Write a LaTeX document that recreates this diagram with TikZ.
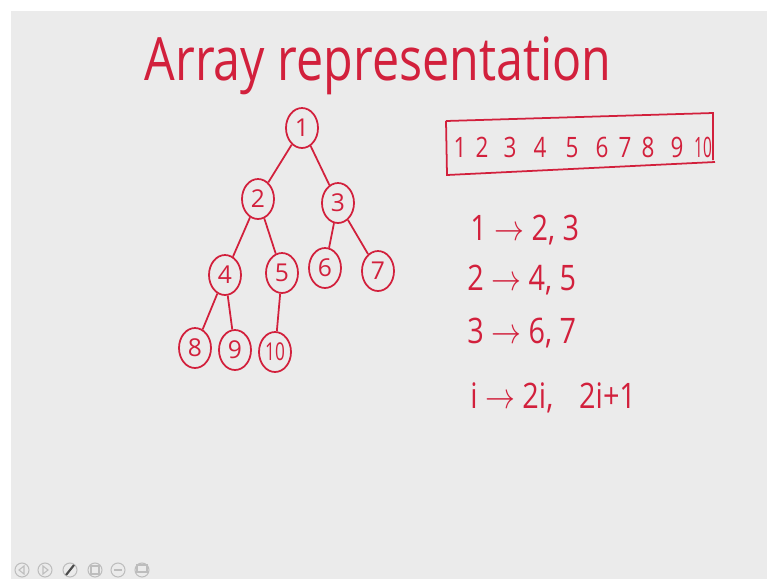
\documentclass[tikz,border=0pt]{standalone}
\usepackage{fontspec}
\setmainfont{Open Sans}
\usetikzlibrary{shapes.geometric}

\definecolor{ink}{HTML}{D2203C}
\definecolor{board}{HTML}{EBEBEB}
\definecolor{tool}{HTML}{BDBDBD}

\begin{document}
\begin{tikzpicture}[
    x=0.02cm, y=-0.02cm,
    key/.style={draw=ink, line width=1pt, ellipse, inner sep=0pt,
        minimum width=0.64cm, minimum height=0.8cm,
        text=ink, font=\fontsize{14}{14}\selectfont},
    edge/.style={draw=ink, line width=1pt},
    cell/.style={text=ink, anchor=base, inner sep=0pt,
        font=\fontsize{16}{16}\selectfont},
    rule/.style={text=ink, anchor=base west, inner sep=0pt,
        font=\fontsize{20}{20}\selectfont},
    btn/.style={draw=tool, line width=0.6pt},
]

% === Page ===
\useasboundingbox (0,0) rectangle (767,579);
\fill[white] (0,0) rectangle (767,579);
\fill[board] (11,11) rectangle (767,579);

% === Title ===
\node[text=ink, anchor=base, inner sep=0pt,
    font=\fontsize{34}{34}\selectfont] (title) at (378,80)
    {\scalebox{0.81}[1]{Array representation}};

% === Tree ===
\node[key] (n1) at (302,128) {1};
\node[key] (n2) at (258,199) {2};
\node[key] (n3) at (338,203) {3};
\node[key] (n4) at (225,275) {4};
\node[key] (n5) at (282,273) {5};
\node[key] (n6) at (325,268) {6};
\node[key] (n7) at (378,271) {7};
\node[key] (n8) at (195,348) {8};
\node[key] (n9) at (235,350) {9};
\node[key] (n10) at (275,352) {\scalebox{0.7}[1]{10}};

\foreach \p/\c in {1/2, 1/3, 2/4, 2/5, 3/6, 3/7, 4/8, 4/9, 5/10}
    \draw[edge] (n\p) -- (n\c);

% === Array ===
\draw[ink, line width=1pt] (446,121) -- (713,113) -- (713,160);
\draw[ink, line width=1pt] (446,121) -- (447,175) -- (715,162);
\foreach \i/\x in {1/460, 2/482, 3/510, 4/540, 5/572,
                   6/602, 7/625, 8/648, 9/677}
    \node[cell] (a\i) at (\x,157) {\scalebox{0.8}[1]{\i}};
\node[cell] (a10) at (703,157) {\scalebox{0.55}[1]{10}};

% === Child rules ===
\node[rule] (r1) at (470,240) {\scalebox{0.82}[1]{1 $\rightarrow$ 2, 3}};
\node[rule] (r2) at (467,290) {\scalebox{0.82}[1]{2 $\rightarrow$ 4, 5}};
\node[rule] (r3) at (467,343) {\scalebox{0.82}[1]{3 $\rightarrow$ 6, 7}};
\node[rule] (ri) at (470,408)
    {\scalebox{0.82}[1]{i $\rightarrow$ 2i,\hspace{0.9em}2i+1}};

% === Toolbar ===
\foreach \x in {22, 45, 70, 95, 118, 142}
    \draw[btn] (\x,570) circle (7);
\draw[btn] (24,566) -- (19,570) -- (24,574) -- cycle;
\draw[btn] (43,566) -- (48,570) -- (43,574) -- cycle;
\draw[black!70, line width=1.2pt] (66,575) -- (74,565);
\draw[btn] (91,566) rectangle (99,574);
\draw[btn] (114,570) -- (122,570);
\draw[btn] (137,565) rectangle (147,572);

\end{tikzpicture}
\end{document}
